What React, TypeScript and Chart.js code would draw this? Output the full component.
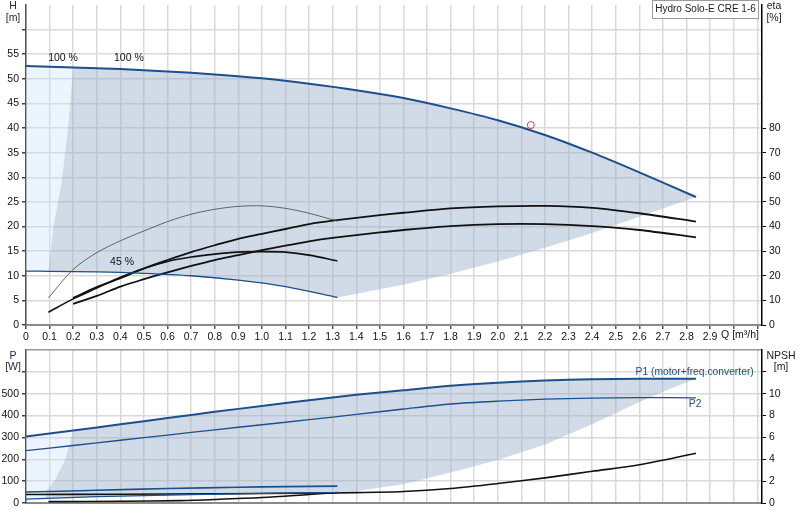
import React, { useEffect, useRef } from 'react';
import { Chart, registerables } from 'chart.js';

Chart.register(...registerables);

// ---- upper panel: head H [m] / efficiency eta [%] against flow Q [m³/h]
const qMax = [0, 0.2, 0.4, 0.6, 0.8, 1.0, 1.2, 1.4, 1.6, 1.8, 2.0, 2.2, 2.4, 2.6, 2.84];
const hMax = [52.6, 52.3, 52.0, 51.5, 50.9, 50.1, 49.0, 47.7, 46.1, 44.0, 41.6, 38.6, 35.0, 31.0, 26.0];
const qMin = [0, 0.1, 0.3, 0.5, 0.7, 0.9, 1.1, 1.32];
const hMin = [10.95, 10.9, 10.8, 10.5, 10.0, 9.1, 7.8, 5.6];
const qEdge = [1.32, 1.6, 1.8, 2.0, 2.2, 2.4, 2.6, 2.84];
const hEdge = [5.6, 8.2, 10.4, 12.9, 15.7, 18.7, 22.0, 26.0];
const qLeft = [0.2, 0.19, 0.18, 0.151, 0.116, 0.095];
const hLeft = [52.3, 47, 41, 29, 20, 11];

const qEtaShort = [0.095, 0.2, 0.3, 0.4, 0.5, 0.6, 0.7, 0.8, 0.9, 1.0, 1.1, 1.2, 1.32];
const etaThin = [11, 22.6, 29.4, 34.2, 38.2, 42, 45, 47, 48.2, 48.4, 47.4, 45.4, 42.2];
const etaShort = [5.2, 10.6, 15, 19.4, 23, 25.8, 27.6, 28.8, 29.6, 29.8, 29.6, 28.4, 26];
const qEtaLong = [0.2, 0.3, 0.4, 0.5, 0.6, 0.7, 0.8, 0.9, 1.0, 1.1, 1.2, 1.3, 1.5, 1.6, 1.8, 2.0, 2.2, 2.4, 2.6, 2.84];
const etaUpper = [11, 15.4, 19, 23, 26.4, 29.6, 32.4, 35, 37, 39, 41, 42.4, 44.6, 45.6, 47.4, 48.2, 48.4, 47.6, 45.4, 42];
const etaLower = [8.6, 11.8, 15.6, 18.6, 21.4, 24, 26.4, 28.4, 30.4, 32.2, 34, 35.4, 37.6, 38.6, 40.2, 41, 41, 40.2, 38.6, 35.6];

const dutyQ = [2.14];
const dutyH = [40.6];

// ---- lower panel: power P [W] / NPSH [m]
const qP = [0, 0.2, 0.4, 0.6, 0.8, 1.0, 1.2, 1.4, 1.6, 1.8, 2.0, 2.2, 2.4, 2.6, 2.84];
const p1Max = [304, 332, 360, 389, 417, 444, 470, 495, 516, 536, 550, 560, 566, 568, 569];
const p2Max = [240, 263, 287, 311, 335, 358, 381, 405, 430, 453, 466, 475, 480, 482, 481];
const qPMin = [0, 0.3, 0.6, 0.9, 1.1, 1.32];
const p1Min = [50, 58, 66, 72, 75, 77];
const p2Min = [18, 29, 36, 42, 45, 48];
const qPEdge = [1.32, 1.4, 1.6, 1.8, 2.0, 2.2, 2.4, 2.6, 2.72, 2.84];
const pEdge = [48, 55, 86, 140, 197, 268, 360, 462, 518, 569];
const qPLeft = [0.2, 0.19, 0.165, 0.123, 0.085, 0.085];
const pLeft = [332, 289, 197, 105, 51, 21];

const qNpsh = [0, 0.4, 0.8, 1.2, 1.4, 1.6, 1.8, 2.0, 2.2, 2.4, 2.6, 2.84];
const npshMax = [0.78, 0.8, 0.84, 0.9, 0.95, 1.05, 1.33, 1.78, 2.3, 2.9, 3.5, 4.55];
const qNpshMin = [0.095, 0.4, 0.65, 0.8, 1.0, 1.2, 1.32];
const npshMin = [0.13, 0.16, 0.22, 0.32, 0.5, 0.78, 0.95];

const BLUE = '#1d4f8c';
const FONT = '"Liberation Sans", Arial, sans-serif';
const GRID = '#d9d9d9';
const NONE = 'rgba(0,0,0,0)';

type Pt = { x: number; y: number };
const pts = (xs: number[], ys: number[]): Pt[] => xs.map((x, i) => ({ x, y: ys[i] }));

// shaded operating ranges
const topPale = [...pts(qMax, hMax).filter((p) => p.x <= 0.2), ...pts(qLeft, hLeft), { x: qMin[0], y: hMin[0] }];
const topGray = [
  ...pts(qMax, hMax).filter((p) => p.x >= 0.2),
  ...pts(qEdge, hEdge).reverse(),
  ...pts(qMin, hMin).filter((p) => p.x >= 0.095).reverse(),
  ...pts(qLeft, hLeft).reverse(),
];
const botPale = [...pts(qP, p1Max).filter((p) => p.x <= 0.2), ...pts(qPLeft, pLeft), { x: qPMin[0], y: p2Min[0] }];
const botGray = [
  ...pts(qP, p1Max).filter((p) => p.x >= 0.2),
  ...pts(qPEdge, pEdge).reverse(),
  ...pts(qPMin, p2Min).filter((p) => p.x >= 0.1).reverse(),
  ...pts(qPLeft, pLeft).reverse(),
];

const line = (data: Pt[], color: string, width: number, yAxisID = 'y') => ({
  data, showLine: true, borderColor: color, borderWidth: width, pointRadius: 0,
  tension: 0.3, fill: false, yAxisID, order: 1,
});
const area = (data: Pt[], color: string) => ({
  data, showLine: true, borderColor: 'transparent', borderWidth: 1, backgroundColor: color,
  pointRadius: 0, tension: 0, fill: 'shape', yAxisID: 'y', order: 3,
});

const tickFont = { family: FONT, size: 10.5 };
const fixW = (w: number) => (s: any) => { s.width = w; s.paddingTop = 0; s.paddingBottom = 0; };
const fixH = (h: number) => (s: any) => { s.height = h; s.paddingLeft = 0; s.paddingRight = 0; };

const xScale = (labels: boolean, h: number) => ({
  type: 'linear', min: 0, max: 3.12, afterFit: fixH(h),
  ticks: {
    display: labels, stepSize: 0.1, includeBounds: false, autoSkip: false, maxRotation: 0,
    font: tickFont, color: '#111', padding: 2,
    callback: (v: number) => (v > 2.95 ? '' : v === 0 ? '0' : Number(v).toFixed(1)),
  },
  grid: { color: GRID, lineWidth: 1.5, tickLength: 4, tickColor: '#555', drawTicks: labels },
  border: { color: '#8a8a8a', width: 2 },
});

type Side = { pos: string; max: number; step: number; lastLabel: number; lastTick: number; width: number; grid: boolean; topLine?: string };
const sideScale = ({ pos, max, step, lastLabel, lastTick, width, grid, topLine }: Side) => ({
  type: 'linear', position: pos, min: 0, max, afterFit: fixW(width),
  ticks: {
    stepSize: step, includeBounds: false, font: tickFont, color: '#111', padding: 3,
    callback: (v: number) => (v > lastLabel ? '' : String(v)),
  },
  grid: grid
    ? {
        color: (c: any) => (c.tick && c.tick.value >= max ? topLine || NONE : GRID),
        lineWidth: 1.5, tickLength: 4,
        tickColor: (c: any) => (c.tick && c.tick.value > lastTick ? NONE : '#444'),
      }
    : {
        drawOnChartArea: false, tickLength: 4,
        tickColor: (c: any) => (c.tick && c.tick.value > lastTick ? NONE : '#000'),
      },
  border: { color: pos === 'left' ? '#555' : '#000', width: 1.5 },
});

const textPlugin = (id: string, draw: (chart: any, ctx: CanvasRenderingContext2D) => void) => ({
  id,
  afterDraw(chart: any) {
    const ctx = chart.ctx;
    ctx.save();
    ctx.font = `10.5px ${FONT}`;
    ctx.textBaseline = 'middle';
    draw(chart, ctx);
    ctx.restore();
  },
});

const topTexts = textPlugin('topTexts', (chart, ctx) => {
  const { x, y } = chart.scales;
  ctx.textAlign = 'center';
  ctx.fillStyle = '#2e2540';
  ctx.fillText('H', 13, 6);
  ctx.fillText('[m]', 13, 18);
  ctx.fillStyle = '#222';
  ctx.fillText('eta', 774, 6);
  ctx.fillText('[%]', 774, 18);
  ctx.fillStyle = '#111';
  ctx.fillText('100 %', x.getPixelForValue(0.157), y.getPixelForValue(54.2));
  ctx.fillText('100 %', x.getPixelForValue(0.436), y.getPixelForValue(54.2));
  ctx.fillText('45 %', x.getPixelForValue(0.407), y.getPixelForValue(12.8));
  ctx.textAlign = 'left';
  ctx.fillText('Q [m³/h]', x.getPixelForValue(2.9) + 11, x.top + 10);
  // model box
  ctx.fillStyle = '#fff';
  ctx.fillRect(652, 0, 107, 19);
  ctx.strokeStyle = '#9a9a9a';
  ctx.lineWidth = 1;
  ctx.strokeRect(652.5, 0.5, 106, 18);
  ctx.fillStyle = '#222';
  ctx.textAlign = 'center';
  ctx.font = `10px ${FONT}`;
  ctx.fillText('Hydro Solo-E CRE 1-6', 705.5, 9.5);
});

const botTexts = textPlugin('botTexts', (chart, ctx) => {
  const { x, y } = chart.scales;
  ctx.textAlign = 'center';
  ctx.fillStyle = '#2e2540';
  ctx.fillText('P', 13, 11);
  ctx.fillText('[W]', 13, 22);
  ctx.fillStyle = '#222';
  ctx.fillText('NPSH', 781, 11);
  ctx.fillText('[m]', 781, 22);
  ctx.fillStyle = BLUE;
  ctx.font = `10.3px ${FONT}`;
  ctx.textAlign = 'right';
  ctx.fillText('P1 (motor+freq.converter)', x.getPixelForValue(3.085), y.getPixelForValue(600));
  ctx.textAlign = 'left';
  ctx.fillText('P2', x.getPixelForValue(2.81), y.getPixelForValue(453));
});

export default function App() {
  const topRef = useRef<HTMLCanvasElement | null>(null);
  const botRef = useRef<HTMLCanvasElement | null>(null);

  useEffect(() => {
    if (!topRef.current || !botRef.current) return;

    const top = new Chart(topRef.current, {
      type: 'scatter',
      data: {
        datasets: [
          area(topPale, 'rgba(200,225,250,0.35)'),
          area(topGray, 'rgba(150,176,202,0.45)'),
          line(pts(qMax, hMax), BLUE, 2),
          line(pts(qMin, hMin), BLUE, 1.3),
          line(pts(qEtaShort, etaThin), '#444', 0.8, 'y2'),
          line(pts(qEtaShort, etaShort), '#111', 1.6, 'y2'),
          line(pts(qEtaLong, etaUpper), '#111', 1.8, 'y2'),
          line(pts(qEtaLong, etaLower), '#111', 1.8, 'y2'),
          {
            data: pts(dutyQ, dutyH), yAxisID: 'y', order: 0, pointRadius: 3.5, pointBorderWidth: 1,
            pointBorderColor: '#e03a3a', pointBackgroundColor: NONE,
          },
        ] as any,
      },
      options: {
        animation: false,
        responsive: false,
        layout: { padding: 0 },
        plugins: { legend: { display: false }, tooltip: { enabled: false } },
        scales: {
          x: xScale(true, 20),
          y: sideScale({ pos: 'left', max: 65, step: 5, lastLabel: 55, lastTick: 60, width: 26, grid: true }),
          y2: sideScale({ pos: 'right', max: 130, step: 10, lastLabel: 80, lastTick: 80, width: 38, grid: false }),
        } as any,
      },
      plugins: [topTexts],
    });

    const bot = new Chart(botRef.current, {
      type: 'scatter',
      data: {
        datasets: [
          area(botPale, 'rgba(200,225,250,0.35)'),
          area(botGray, 'rgba(150,176,202,0.45)'),
          line(pts(qP, p1Max), BLUE, 2),
          line(pts(qP, p2Max), BLUE, 1.3),
          line(pts(qPMin, p1Min), BLUE, 1.6),
          line(pts(qPMin, p2Min), BLUE, 1.2),
          line(pts(qNpsh, npshMax), '#111', 1.6, 'y2'),
          line(pts(qNpshMin, npshMin), '#111', 1.6, 'y2'),
        ] as any,
      },
      options: {
        animation: false,
        responsive: false,
        layout: { padding: { top: 5, left: 0, right: 0, bottom: 0 } },
        plugins: { legend: { display: false }, tooltip: { enabled: false } },
        scales: {
          x: xScale(false, 17),
          y: sideScale({ pos: 'left', max: 700, step: 100, lastLabel: 500, lastTick: 600, width: 26, grid: true, topLine: '#9a9a9a' }),
          y2: sideScale({ pos: 'right', max: 14, step: 2, lastLabel: 10, lastTick: 12, width: 38, grid: false }),
        } as any,
      },
      plugins: [botTexts],
    });

    return () => {
      top.destroy();
      bot.destroy();
    };
  }, []);

  return (
    <div style={{ position: 'fixed', left: 0, top: 0, width: 800, height: 520, background: '#fff' }}>
      <canvas ref={topRef} width={800} height={345} style={{ position: 'absolute', left: 0, top: 0 }} />
      <canvas ref={botRef} width={800} height={175} style={{ position: 'absolute', left: 0, top: 345 }} />
    </div>
  );
}
